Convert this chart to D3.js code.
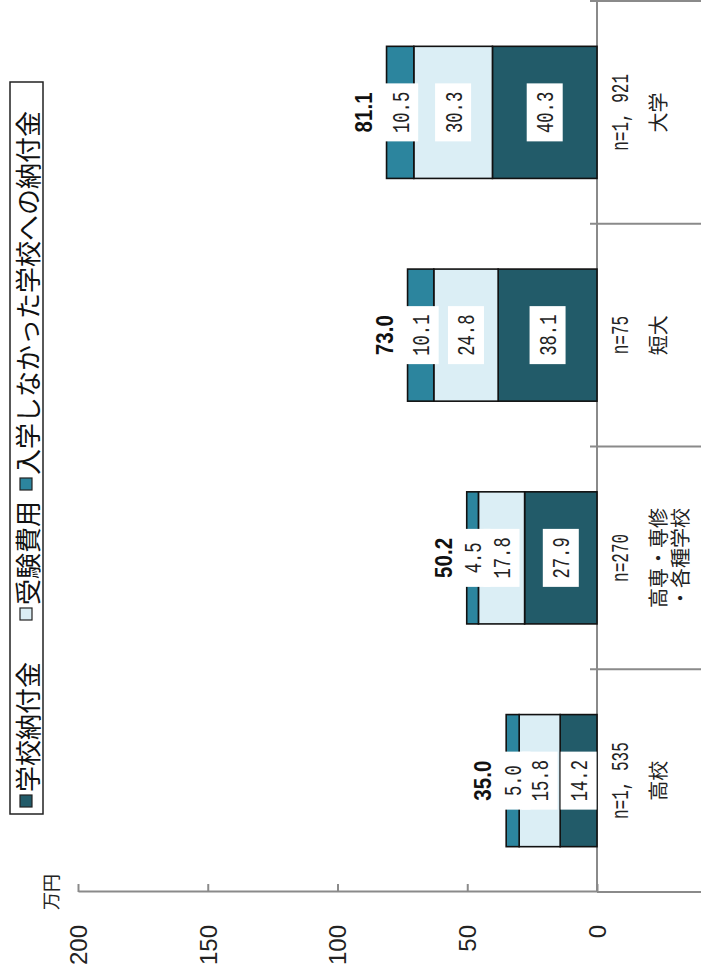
<!DOCTYPE html>
<html>
<head>
<meta charset="utf-8">
<script src="https://cdn.jsdelivr.net/npm/d3@7"></script>
<style>
  html, body { margin: 0; padding: 0; background: #fff; }
  svg { display: block; }
</style>
</head>
<body>
<svg id="chart" width="701" height="972"></svg>
<script>
// Categories (left to right in the chart's own frame) and their sample sizes
const categories = ["高校", "高専・専修・各種学校", "短大", "大学"];
const categoryLines = [["高校"], ["高専・専修", "・各種学校"], ["短大"], ["大学"]];
const sampleSizes = ["n=1, 535", "n=270", "n=75", "n=1, 921"];

// Series values, 万円
const schoolFees = [14.2, 27.9, 38.1, 40.3];      // 学校納付金
const examFees = [15.8, 17.8, 24.8, 30.3];        // 受験費用
const forfeitFees = [5.0, 4.5, 10.1, 10.5];       // 入学しなかった学校への納付金
const totals = [35.0, 50.2, 73.0, 81.1];

const seriesNames = ["学校納付金", "受験費用", "入学しなかった学校への納付金"];
const valueTicks = [0, 50, 100, 150, 200];
const unitLabel = "万円";

const colors = { school: "#225b69", exam: "#dbeef5", forfeit: "#2c859e" };
const keys = ["school", "exam", "forfeit"];

const table = categories.map((c, i) => ({
  category: c,
  school: schoolFees[i],
  exam: examFees[i],
  forfeit: forfeitFees[i],
  total: totals[i],
  n: sampleSizes[i],
  lines: categoryLines[i]
}));

const CJK = "'Noto Sans CJK JP', 'Noto Sans', sans-serif";
const NUM = "'Liberation Mono', 'DejaVu Sans Mono', monospace";
const SANS = "'Liberation Sans', Arial, sans-serif";

const svg = d3.select("#chart");
svg.append("rect").attr("width", 701).attr("height", 972).attr("fill", "#fff");

// The whole chart is laid out in a 972 x 701 frame and turned a quarter turn.
const g = svg.append("g").attr("transform", "translate(0,972) rotate(-90)");

const x = d3.scaleBand()
  .domain(categories)
  .range([80, 971])
  .paddingInner(0.407)
  .paddingOuter(0.2035);

const y = d3.scaleLinear().domain([0, 200]).range([597, 78]);

const axisColor = "#8a8a8a";

// Value axis
const yAxis = d3.axisLeft(y)
  .tickValues(valueTicks)
  .tickSizeInner(-8)
  .tickSizeOuter(0)
  .tickPadding(33)
  .tickFormat(d3.format("d"));

const ya = g.append("g").attr("transform", "translate(80,0)").call(yAxis);
ya.select(".domain").attr("stroke", axisColor).attr("stroke-width", 2);
ya.selectAll(".tick line").attr("stroke", axisColor).attr("stroke-width", 2);
ya.selectAll(".tick text")
  .attr("font-family", SANS)
  .attr("font-size", 24)
  .attr("fill", "#222")
  .attr("dy", "0.35em");

// extension of the value axis below the baseline
g.append("line")
  .attr("x1", 80).attr("x2", 80)
  .attr("y1", y(0)).attr("y2", 701)
  .attr("stroke", axisColor).attr("stroke-width", 2);

// unit label
g.append("text")
  .attr("x", 62).attr("y", 58)
  .attr("font-family", CJK).attr("font-size", 18).attr("fill", "#222")
  .text(unitLabel);

// Category baseline
g.append("line")
  .attr("x1", 80).attr("x2", 972)
  .attr("y1", y(0)).attr("y2", y(0))
  .attr("stroke", axisColor).attr("stroke-width", 2);

// Category separators
const step = x.step();
const seps = categories.map((c, i) => 80 + step * (i + 1));
g.selectAll("line.sep").data(seps).join("line")
  .attr("class", "sep")
  .attr("x1", d => d).attr("x2", d => d)
  .attr("y1", y(0) - 7).attr("y2", 701)
  .attr("stroke", axisColor).attr("stroke-width", 2);

// Stacked bars
const stacked = d3.stack().keys(keys)(table);
const bw = x.bandwidth();

const layers = g.selectAll("g.layer").data(stacked).join("g")
  .attr("class", "layer")
  .attr("fill", d => colors[d.key]);

layers.selectAll("rect").data(d => d).join("rect")
  .attr("x", d => x(d.data.category))
  .attr("y", d => y(d[1]))
  .attr("width", bw)
  .attr("height", d => y(d[0]) - y(d[1]))
  .attr("stroke", "#111")
  .attr("stroke-width", 1.6);

// Segment value labels on white boxes
const segs = [];
stacked.forEach(s => s.forEach(d => {
  segs.push({
    cx: x(d.data.category) + bw / 2,
    cy: (y(d[0]) + y(d[1])) / 2,
    label: (d[1] - d[0]).toFixed(1)
  });
}));

g.selectAll("rect.lblbox").data(segs).join("rect")
  .attr("class", "lblbox")
  .attr("x", d => d.cx - 29)
  .attr("y", d => d.cy - 18)
  .attr("width", 58)
  .attr("height", 36)
  .attr("fill", "#fff");

g.selectAll("text.seglbl").data(segs).join("text")
  .attr("class", "seglbl")
  .attr("x", d => d.cx)
  .attr("y", d => d.cy + 8.5)
  .attr("text-anchor", "middle")
  .attr("font-family", NUM)
  .attr("font-size", 24)
  .attr("fill", "#222")
  .attr("textLength", d => d.label.length * 10.3)
  .attr("lengthAdjust", "spacingAndGlyphs")
  .text(d => d.label);

// Totals
g.selectAll("text.total").data(table).join("text")
  .attr("class", "total")
  .attr("x", d => x(d.category) + bw / 2)
  .attr("y", d => y(d.total) - 15)
  .attr("text-anchor", "middle")
  .attr("font-family", SANS)
  .attr("font-weight", "bold")
  .attr("font-size", 23)
  .attr("fill", "#111")
  .attr("textLength", 40)
  .attr("lengthAdjust", "spacingAndGlyphs")
  .text(d => d.total.toFixed(1));

// Category labels
const catG = g.selectAll("g.cat").data(table).join("g")
  .attr("class", "cat")
  .attr("transform", d => `translate(${x(d.category) + bw / 2},0)`);

catG.append("text")
  .attr("y", 628)
  .attr("text-anchor", "middle")
  .attr("font-family", NUM)
  .attr("font-size", 24)
  .attr("fill", "#222")
  .attr("textLength", d => d.n.length * 9.6)
  .attr("lengthAdjust", "spacingAndGlyphs")
  .text(d => d.n);

catG.each(function(d) {
  d3.select(this).selectAll("text.name").data(d.lines).join("text")
    .attr("class", "name")
    .attr("y", (t, i) => 666 + i * 22)
    .attr("text-anchor", "middle")
    .attr("font-family", CJK)
    .attr("font-size", 20)
    .attr("fill", "#222")
    .text(t => t);
});

// Legend
const legend = g.append("g");
legend.append("rect")
  .attr("x", 158).attr("y", 10)
  .attr("width", 732).attr("height", 33)
  .attr("fill", "#fff").attr("stroke", "#222").attr("stroke-width", 1.5);

const legendPos = [165, 352, 482];
const legendItems = legend.selectAll("g.item").data(keys).join("g")
  .attr("class", "item")
  .attr("transform", (k, i) => `translate(${legendPos[i]},0)`);

legendItems.append("rect")
  .attr("x", 0).attr("y", 20)
  .attr("width", 12).attr("height", 12)
  .attr("fill", k => colors[k])
  .attr("stroke", "#222").attr("stroke-width", 1.2);

legendItems.append("text")
  .attr("x", 15).attr("y", 38)
  .attr("font-family", CJK)
  .attr("font-size", 26)
  .attr("fill", "#111")
  .text((k, i) => seriesNames[i]);
</script>
</body>
</html>
